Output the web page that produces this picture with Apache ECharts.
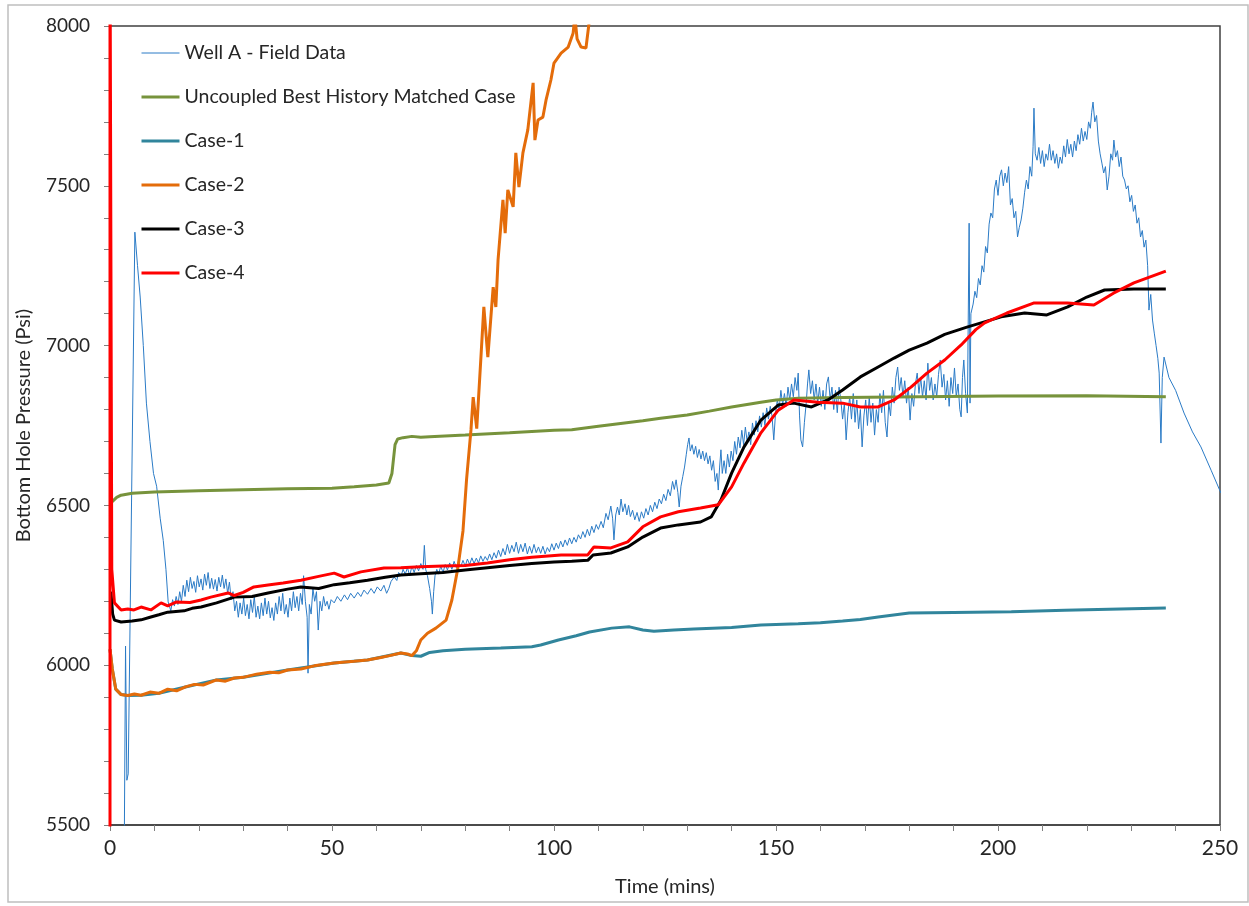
<!DOCTYPE html>
<html>
<head>
<meta charset="utf-8">
<script src="https://cdn.jsdelivr.net/npm/echarts@6/dist/echarts.min.js"></script>
<style>
html,body{margin:0;padding:0;background:#fff;}
#chart{width:1249px;height:906px;}
</style>
</head>
<body>
<div id="chart"></div>
<script>
const seriesNames = ['Well A - Field Data','Uncoupled Best History Matched Case','Case-1','Case-2','Case-3','Case-4'];
const xTitle = 'Time (mins)';
const yTitle = 'Bottom Hole Pressure (Psi)';
const xRange = [0, 250, 50];
const yRange = [5500, 8000, 500];

const fieldData = [
[3.2,5400],[3.5,6060],[3.8,5640],[4.1,5660],[5.6,7355],[6.2,7250],[6.8,7152],[7.5,7000],[8.2,6820],[9.0,6700],[9.8,6600],[10.5,6560],[11.3,6460],[12.0,6390],[12.6,6300],[13.1,6198],[13.7,6170],[14.1,6205],[14.5,6185],[14.9,6215],[15.3,6190],[15.7,6230],[16.1,6200],[16.5,6250],[16.9,6215],[17.3,6266],[17.7,6230],[18.1,6275],[18.5,6240],[18.9,6262],[19.3,6228],[19.7,6280],[20.1,6245],[20.5,6270],[20.9,6235],[21.3,6285],[21.7,6250],[22.1,6290],[22.5,6240],[22.9,6272],[23.3,6238],[23.7,6268],[24.1,6232],[24.5,6275],[24.9,6245],[25.3,6282],[25.7,6240],[26.1,6270],[26.5,6225],[26.9,6260],[27.3,6205],[27.7,6230],[28.1,6170],[28.5,6200],[28.9,6150],[29.3,6195],[29.7,6160],[30.1,6210],[30.5,6155],[30.9,6190],[31.3,6145],[31.7,6205],[32.1,6165],[32.5,6215],[32.9,6150],[33.3,6185],[33.7,6145],[34.1,6195],[34.5,6155],[34.9,6210],[35.3,6160],[35.7,6200],[36.1,6148],[36.5,6180],[36.9,6140],[37.3,6195],[37.7,6160],[38.1,6215],[38.5,6170],[38.9,6225],[39.3,6160],[39.7,6190],[40.1,6150],[40.5,6210],[40.9,6170],[41.3,6230],[41.7,6180],[42.1,6215],[42.5,6170],[42.9,6225],[43.3,6190],[43.6,6280],[44.0,6200],[44.4,6150],[44.6,5975],[44.9,6190],[45.3,6160],[45.7,6240],[46.1,6200],[46.5,6230],[46.9,6110],[47.3,6200],[47.7,6170],[48.1,6215],[48.5,6185],[48.9,6200],[49.3,6175],[49.8,6205],[50.5,6195],[51.2,6215],[52,6200],[52.8,6220],[53.5,6205],[54.2,6225],[55,6210],[55.8,6228],[56.5,6215],[57.2,6235],[58,6222],[58.8,6240],[59.5,6225],[60.2,6245],[61,6232],[61.7,6250],[62.3,6225],[62.8,6240],[63.3,6262],[64,6276],[64.6,6265],[65,6290],[65.6,6280],[66,6300],[66.5,6285],[67,6305],[67.5,6280],[68,6310],[68.5,6290],[69,6312],[69.5,6295],[70,6318],[70.5,6300],[70.8,6375],[71.1,6300],[71.5,6280],[72.0,6240],[72.4,6200],[72.6,6160],[72.9,6230],[73.2,6280],[73.6,6300],[74,6285],[74.5,6310],[75,6290],[75.5,6315],[76,6298],[76.5,6320],[77,6300],[77.5,6325],[78,6305],[78.5,6322],[79,6308],[79.5,6328],[80,6310],[80.5,6332],[81,6315],[81.5,6336],[82,6318],[82.5,6335],[83,6320],[83.5,6342],[84,6325],[84.5,6340],[85,6328],[85.5,6348],[86,6330],[86.5,6352],[87,6335],[87.5,6360],[88,6340],[88.5,6365],[89,6345],[89.5,6378],[90,6350],[90.5,6375],[91,6355],[91.5,6385],[92,6350],[92.5,6378],[93,6355],[93.5,6382],[94,6348],[94.5,6372],[95,6350],[95.5,6378],[96,6352],[96.5,6370],[97,6350],[97.5,6372],[98,6348],[98.5,6368],[99,6355],[99.5,6380],[100,6360],[100.5,6382],[101,6365],[101.5,6388],[102,6370],[102.5,6392],[103,6375],[103.5,6398],[104,6380],[104.5,6400],[105,6385],[105.5,6408],[106,6395],[106.5,6418],[107,6400],[107.5,6425],[108,6405],[108.5,6435],[109,6415],[109.5,6440],[110,6425],[110.6,6450],[111.1,6430],[111.7,6475],[112.2,6455],[112.8,6498],[113.2,6460],[113.5,6392],[113.9,6470],[114.3,6495],[114.7,6470],[115.1,6520],[115.5,6480],[116,6505],[116.4,6470],[116.8,6500],[117.2,6465],[117.7,6485],[118.2,6455],[118.7,6478],[119.2,6450],[119.7,6480],[120.2,6460],[120.7,6490],[121.2,6470],[121.7,6500],[122.2,6480],[122.7,6510],[123.2,6490],[123.7,6520],[124.2,6505],[124.7,6535],[125.2,6515],[125.7,6550],[126.2,6530],[126.7,6575],[127.1,6550],[127.5,6580],[127.9,6540],[128.2,6495],[128.6,6560],[129,6590],[129.4,6620],[129.8,6660],[130.1,6690],[130.4,6711],[130.7,6670],[131.1,6690],[131.5,6660],[131.9,6685],[132.3,6650],[132.7,6675],[133.1,6645],[133.5,6670],[133.9,6640],[134.3,6665],[134.7,6630],[135.1,6655],[135.5,6610],[135.9,6640],[136.3,6575],[136.7,6600],[137,6548],[137.3,6620],[137.6,6674],[137.9,6600],[138.3,6640],[138.7,6600],[139.1,6660],[139.5,6620],[139.9,6670],[140.3,6640],[140.7,6700],[141.1,6660],[141.5,6714],[141.9,6680],[142.3,6735],[142.7,6690],[143.1,6745],[143.5,6700],[143.9,6730],[144.3,6690],[144.7,6758],[145.1,6720],[145.5,6765],[145.9,6730],[146.3,6780],[146.7,6745],[147.1,6790],[147.5,6750],[147.9,6805],[148.3,6770],[148.7,6810],[149.1,6780],[149.5,6705],[149.9,6790],[150.3,6830],[150.7,6800],[151.1,6860],[151.5,6815],[151.9,6850],[152.3,6810],[152.7,6870],[153.1,6830],[153.5,6880],[153.9,6840],[154.3,6900],[154.7,6860],[155.0,6914],[155.3,6780],[155.6,6705],[156.0,6683],[156.4,6760],[156.8,6820],[157.1,6880],[157.4,6924],[157.8,6850],[158.2,6890],[158.6,6830],[159,6880],[159.4,6820],[159.8,6870],[160.2,6810],[160.6,6860],[161,6800],[161.4,6880],[161.8,6902],[162.2,6830],[162.6,6870],[163,6800],[163.4,6860],[163.8,6790],[164.2,6870],[164.6,6830],[165,6770],[165.4,6820],[165.8,6705],[166.2,6790],[166.6,6840],[167,6770],[167.4,6850],[167.8,6760],[168.2,6830],[168.6,6740],[169,6800],[169.4,6683],[169.8,6780],[170.2,6830],[170.6,6750],[171,6840],[171.4,6760],[171.8,6820],[172.2,6720],[172.6,6800],[173,6760],[173.4,6850],[173.8,6790],[174.2,6860],[174.6,6760],[175,6714],[175.4,6820],[175.8,6780],[176.2,6870],[176.6,6820],[177,6900],[177.4,6933],[177.8,6860],[178.2,6900],[178.6,6840],[179,6890],[179.4,6820],[179.8,6870],[180.2,6767],[180.6,6850],[181,6810],[181.4,6880],[181.8,6914],[182.2,6850],[182.6,6900],[183,6840],[183.4,6890],[183.8,6830],[184.2,6945],[184.6,6860],[185,6900],[185.4,6830],[185.8,6880],[186.2,6840],[186.6,6910],[187,6955],[187.4,6870],[187.8,6910],[188.2,6830],[188.6,6890],[189,6810],[189.4,6900],[189.8,6850],[190.2,6930],[190.6,6840],[191,6880],[191.4,6800],[191.7,6777],[192,6900],[192.3,6955],[192.7,6850],[193.1,6789],[193.5,7383],[193.7,6820],[193.9,7100],[194.4,7130],[194.8,7170],[195.2,7150],[195.6,7210],[196,7190],[196.4,7250],[196.8,7230],[197.2,7310],[197.6,7290],[198,7380],[198.4,7415],[198.8,7400],[199.2,7490],[199.6,7518],[200,7470],[200.4,7530],[200.8,7550],[201.2,7500],[201.6,7540],[202,7510],[202.4,7560],[202.8,7440],[203.2,7460],[203.6,7400],[204,7420],[204.4,7340],[204.8,7370],[205.2,7393],[205.6,7430],[206,7480],[206.4,7518],[206.8,7490],[207.2,7560],[207.6,7530],[207.9,7622],[208.1,7743],[208.4,7600],[208.8,7580],[209.2,7620],[209.6,7570],[210,7610],[210.4,7560],[210.8,7600],[211.2,7580],[211.6,7630],[212,7580],[212.4,7610],[212.8,7570],[213.2,7600],[213.6,7555],[214,7590],[214.4,7570],[214.8,7625],[215.2,7590],[215.6,7645],[216,7600],[216.4,7630],[216.8,7590],[217.2,7640],[217.6,7610],[218,7660],[218.4,7630],[218.8,7680],[219.2,7640],[219.6,7670],[220,7645],[220.4,7700],[220.8,7680],[221.1,7730],[221.4,7762],[221.8,7700],[222.2,7720],[222.6,7640],[223,7600],[223.4,7571],[223.8,7540],[224.2,7560],[224.6,7487],[225,7530],[225.4,7600],[225.8,7580],[226.1,7643],[226.5,7590],[226.9,7610],[227.3,7560],[227.7,7590],[228.1,7530],[228.5,7518],[228.9,7490],[229.3,7500],[229.7,7450],[230.1,7470],[230.5,7420],[230.9,7440],[231.3,7383],[231.7,7400],[232.1,7340],[232.5,7360],[232.9,7308],[233.3,7330],[233.7,7250],[234,7111],[234.4,7160],[234.8,7080],[235.2,7039],[235.6,7000],[236,6960],[236.3,6914],[236.7,6695],[237,6900],[237.4,6964],[238.5,6900],[240,6860],[241.9,6789],[243.8,6730],[245.7,6683],[248,6610],[250.2,6539]
];

const uncoupledData = [
[0,6505],[0.5,6512],[1.5,6525],[2.5,6532],[5,6538],[10,6542],[20,6546],[30,6549],[40,6552],[50,6554],[55,6558],[60,6564],[62.8,6570],[63.5,6600],[64.2,6690],[64.8,6708],[66,6712],[68,6716],[70,6713],[72,6715],[80,6720],[90,6727],[100,6735],[104,6737],[110,6748],[120,6765],[124,6773],[130,6783],[135,6795],[140,6808],[146.6,6823],[150,6830],[155,6835],[165,6838],[200,6842],[220,6843],[237.8,6840]
];

const case1Data = [
[0,6050],[0.5,5990],[1.3,5925],[2.5,5908],[4,5905],[7,5906],[11,5912],[17,5932],[24,5954],[30,5962],[40,5985],[50.5,6007],[58,6016],[65.5,6038],[68,6030],[70,6028],[72,6040],[75,6045],[80,6050],[88,6054],[95,6058],[97,6063],[101,6079],[105,6092],[108,6104],[113,6116],[117,6120],[120,6110],[122.5,6106],[127,6110],[131.5,6113],[140,6118],[146.6,6126],[155,6130],[160,6133],[165,6138],[169,6143],[173,6151],[180,6163],[190,6165],[203,6167],[215,6172],[225,6175],[237.8,6179]
];

const case2Data = [
[0,6050],[0.5,5990],[1.3,5925],[2.5,5908],[4,5905],[5.5,5910],[7,5906],[9,5916],[11,5912],[13,5925],[15,5920],[17,5932],[19,5940],[21,5938],[24,5954],[26,5950],[28,5960],[30,5962],[33,5972],[36,5978],[38,5976],[40,5985],[43,5988],[46,5998],[48,6002],[50.5,6007],[53,6010],[55,6012],[58,6016],[61,6024],[63,6030],[65.5,6038],[67,6035],[68,6030],[69,6045],[70,6079],[71.5,6100],[73.4,6116],[75.7,6141],[77,6204],[78.3,6300],[79.5,6420],[80.3,6580],[81.3,6736],[81.8,6839],[82.6,6740],[83.6,6977],[84.2,7121],[85.1,6964],[86.3,7183],[86.9,7121],[87.4,7268],[88.5,7456],[89,7352],[89.6,7487],[90.8,7434],[91.4,7603],[92.1,7496],[93,7603],[94.1,7675],[95.3,7822],[95.7,7643],[96.4,7706],[97.5,7715],[98.2,7768],[99.3,7831],[100,7884],[101.6,7915],[103.2,7934],[104.3,7977],[104.7,8030],[105.2,7960],[106.1,7934],[107.2,7931],[107.9,8010],[108.5,8100]
];

const case3Data = [
[0.2,6230],[0.6,6160],[1,6141],[2.5,6135],[5,6138],[7,6142],[9.2,6151],[11,6158],[13,6166],[16.7,6170],[18.5,6178],[20.5,6182],[24,6195],[28,6213],[32,6215],[35.6,6226],[40,6238],[43,6245],[47,6240],[50.5,6252],[54,6258],[58,6266],[62,6275],[65.5,6282],[70,6286],[75,6290],[80,6298],[85,6305],[90,6312],[95,6318],[100,6323],[104,6325],[107.6,6328],[108.8,6345],[112.8,6351],[116.6,6370],[120,6401],[124,6429],[128,6439],[133,6448],[135.4,6464],[137.6,6517],[140,6601],[142.8,6683],[146.6,6767],[150.5,6814],[154,6820],[158,6808],[161.7,6830],[165,6861],[169,6902],[173,6933],[176.6,6961],[180,6986],[184,7008],[188,7035],[193,7058],[200.7,7090],[206,7102],[211,7096],[215.7,7121],[220,7152],[224,7174],[230.6,7177],[237.8,7177]
];

const case4Data = [
[0,5400],[0,8300],[0.4,6300],[1,6195],[2.5,6173],[4,6176],[5.4,6173],[7,6182],[9.2,6173],[11.5,6195],[13,6186],[15,6198],[18,6196],[20.5,6204],[22.7,6213],[26.6,6226],[28,6218],[30,6228],[32.4,6245],[35.6,6251],[39,6257],[43,6266],[47,6278],[50.5,6288],[52.7,6276],[56.5,6292],[61.7,6304],[65.5,6305],[70,6308],[75,6310],[80,6312],[85,6320],[90,6330],[95,6338],[101.6,6345],[107.6,6345],[109,6370],[112.8,6367],[116.6,6386],[120,6433],[124,6464],[128,6480],[133,6492],[137,6502],[140,6558],[142.8,6633],[146.6,6727],[150.5,6798],[154,6830],[159.5,6823],[165,6820],[169,6808],[173,6808],[176.6,6830],[180.4,6870],[184,6914],[188,6955],[191.7,7002],[195,7050],[197,7071],[202,7102],[208,7133],[215.7,7133],[221.6,7127],[226,7164],[230.6,7196],[237.8,7233]
];

const colors = ['#2B7BC6','#77933C','#31859C','#E46C0A','#000000','#FF0000'];
const widths = [1, 3, 3, 3, 3, 3];
const datasets = [fieldData, uncoupledData, case1Data, case2Data, case3Data, case4Data];

const FONT = 'Lato';
const chart = echarts.init(document.getElementById('chart'));
chart.setOption({
  animation: false,
  backgroundColor: '#fff',
  graphic: [{
    type: 'rect', silent: true, z: -10,
    shape: {x: 8, y: 5, width: 1240, height: 897},
    style: {fill: 'none', stroke: '#BFBFBF', lineWidth: 1.5}
  }],
  grid: {left: 110, top: 26, right: 29, bottom: 81, show: true, borderColor: '#404040', borderWidth: 1.5, backgroundColor: 'transparent'},
  legend: {
    orient: 'vertical', left: 135, top: 38, itemWidth: 38, itemHeight: 14, itemGap: 24,
    data: seriesNames.map((n, i) => ({name: n, lineStyle: {width: widths[i], color: colors[i]}})),
    itemStyle: {color: 'rgba(0,0,0,0)', borderWidth: 0, opacity: 0},
    textStyle: {fontFamily: FONT, fontSize: 19.5, lineHeight: 20, color: '#262626'}
  },
  xAxis: {
    type: 'value', min: xRange[0], max: xRange[1], interval: xRange[2],
    name: xTitle, nameLocation: 'middle', nameGap: 52,
    nameTextStyle: {fontFamily: FONT, fontSize: 20, color: '#262626'},
    axisLine: {lineStyle: {color: '#404040', width: 1.5}},
    axisTick: {length: 6, lineStyle: {color: '#808080'}},
    minorTick: {show: true, splitNumber: 5, length: 6, lineStyle: {color: '#808080'}},
    splitLine: {show: false},
    axisLabel: {fontFamily: FONT, fontSize: 21, color: '#262626', margin: 13}
  },
  yAxis: {
    type: 'value', min: yRange[0], max: yRange[1], interval: yRange[2],
    name: yTitle, nameLocation: 'middle', nameGap: 76,
    nameTextStyle: {fontFamily: FONT, fontSize: 20, color: '#262626'},
    axisLine: {show: true, lineStyle: {color: '#404040', width: 1.5}},
    axisTick: {show: true, length: 6, lineStyle: {color: '#808080'}},
    minorTick: {show: true, splitNumber: 5, length: 6, lineStyle: {color: '#808080'}},
    splitLine: {show: false},
    axisLabel: {fontFamily: FONT, fontSize: 19, color: '#262626', margin: 20, formatter: v => String(v)}
  },
  series: seriesNames.map((n, i) => ({
    name: n, type: 'line', data: datasets[i], symbol: 'none', showSymbol: false,
    clip: true, smooth: false,
    lineStyle: {color: colors[i], width: widths[i]},
    itemStyle: {color: colors[i]},
    z: 2 + i
  }))
});
</script>
</body>
</html>
